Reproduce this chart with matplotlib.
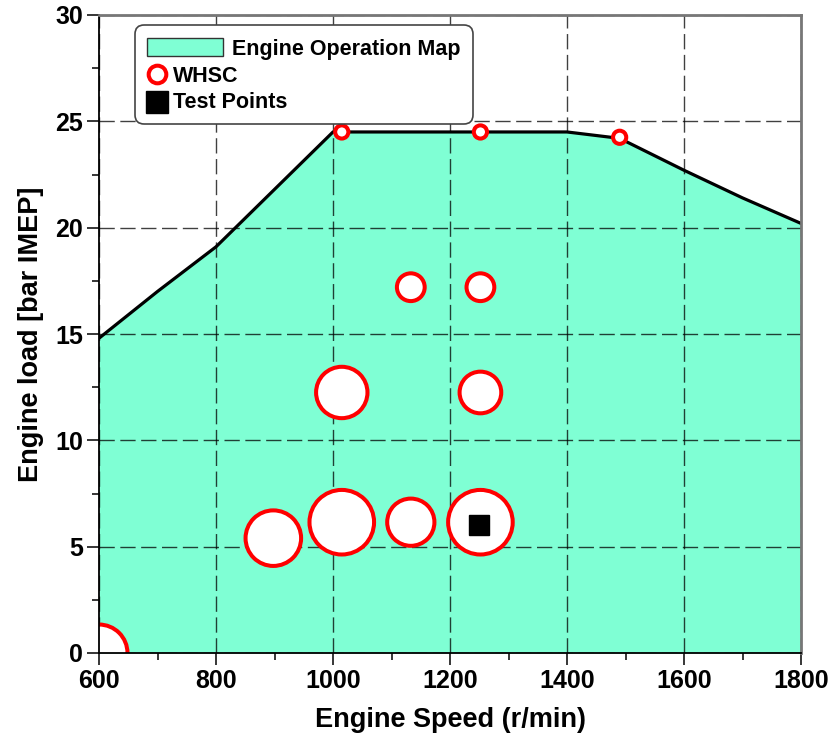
import matplotlib
matplotlib.use("Agg")
import matplotlib.pyplot as plt
from matplotlib.patches import FancyBboxPatch, Rectangle
from matplotlib.lines import Line2D
from matplotlib.ticker import MultipleLocator

plt.rcParams["font.family"] = ["Liberation Sans", "DejaVu Sans"]
plt.rcParams["font.weight"] = "bold"

# -- data ------------------------------------------------------------------
map_speed = [600, 700, 800, 900, 1000, 1100, 1200, 1300, 1400, 1490, 1600, 1700, 1800]
map_load  = [14.8, 17.0, 19.1, 21.8, 24.5, 24.5, 24.5, 24.5, 24.5, 24.2, 22.7, 21.4, 20.2]

whsc_speed = [600, 898, 1015, 1133, 1252, 1015, 1252, 1133, 1252, 1015, 1252, 1490]
whsc_load  = [0.0, 5.4, 6.15, 6.15, 6.15, 12.25, 12.25, 17.2, 17.2, 24.5, 24.5, 24.25]
whsc_size  = [41, 40, 46.5, 34, 46.5, 37, 30, 20, 20, 9.5, 9.5, 9.5]   # marker diameter, pt

test_speed = [1250]
test_load  = [6.0]

legend_labels = ["Engine Operation Map", "WHSC", "Test Points"]

MAP_COLOR = "#7FFFD4"
W, H = 830, 738


def fx(px):
    return px / W


def fy(py):
    return 1 - py / H


# -- figure ----------------------------------------------------------------
fig = plt.figure(figsize=(W / 100, H / 100), dpi=100)
ax = fig.add_axes([fx(99), fy(653), fx(801) - fx(99), fy(15) - fy(653)])

ax.fill_between(map_speed, 0, map_load, color=MAP_COLOR, zorder=1, linewidth=0)
ax.grid(True, which="major", color="k", linestyle=(0, (11, 4)), linewidth=1.0,
        alpha=0.75, zorder=2)
ax.set_axisbelow(False)
ax.plot(map_speed, map_load, color="k", linewidth=2.3, zorder=3)

ax.scatter(whsc_speed, whsc_load, s=[d ** 2 for d in whsc_size], facecolor="white",
           edgecolor="#FF0000", linewidth=2.9, zorder=4, clip_on=True)
ax.plot(test_speed, test_load, linestyle="none", marker="s", markersize=15,
        color="k", zorder=5)

ax.set_xlim(600, 1800)
ax.set_ylim(0, 30)
ax.xaxis.set_major_locator(MultipleLocator(200))
ax.xaxis.set_minor_locator(MultipleLocator(100))
ax.yaxis.set_major_locator(MultipleLocator(5))
ax.yaxis.set_minor_locator(MultipleLocator(2.5))
ax.tick_params(which="major", direction="out", length=8.6, width=1.1, labelsize=18, pad=3)
ax.tick_params(which="minor", direction="out", length=5, width=1.1)

for side in ["left", "bottom"]:
    ax.spines[side].set_color("k")
    ax.spines[side].set_linewidth(1.3)
for side in ["top", "right"]:
    ax.spines[side].set_color("#777777")
    ax.spines[side].set_linewidth(2)
for sp in ax.spines.values():
    sp.set_zorder(6)

ax.set_xlabel("Engine Speed (r/min)", fontsize=19.5, fontweight="bold", labelpad=10)
ax.set_ylabel("Engine load [bar IMEP]", fontsize=19.5, fontweight="bold", labelpad=8)

# -- legend, laid out by hand ------------------------------------------------
box = FancyBboxPatch((fx(135), fy(124)), fx(473) - fx(135), fy(25) - fy(124),
                     boxstyle="round,pad=0,rounding_size=0.011",
                     mutation_aspect=W / H, transform=fig.transFigure,
                     facecolor="white", edgecolor="#444444", linewidth=1.2, zorder=10)
fig.add_artist(box)

fig.add_artist(Rectangle((fx(147), fy(56)), fx(223) - fx(147), fy(38) - fy(56),
                         transform=fig.transFigure, facecolor=MAP_COLOR,
                         edgecolor="#333333", linewidth=1, zorder=11))
fig.add_artist(Line2D([fx(157)], [fy(74)], transform=fig.transFigure, linestyle="none",
                      marker="o", markersize=12.7, markerfacecolor="white",
                      markeredgecolor="#FF0000", markeredgewidth=2.9, zorder=11))
fig.add_artist(Line2D([fx(156.5)], [fy(101.5)], transform=fig.transFigure, linestyle="none",
                      marker="s", markersize=16.5, color="k", zorder=11))

text_pos = [(232, 54.5), (173, 81.5), (173, 107.5)]
for (px, py), lab in zip(text_pos, legend_labels):
    fig.text(fx(px), fy(py), lab, fontsize=15.5, fontweight="bold",
             ha="left", va="baseline", zorder=12)

fig.savefig("out.png", dpi=100)
